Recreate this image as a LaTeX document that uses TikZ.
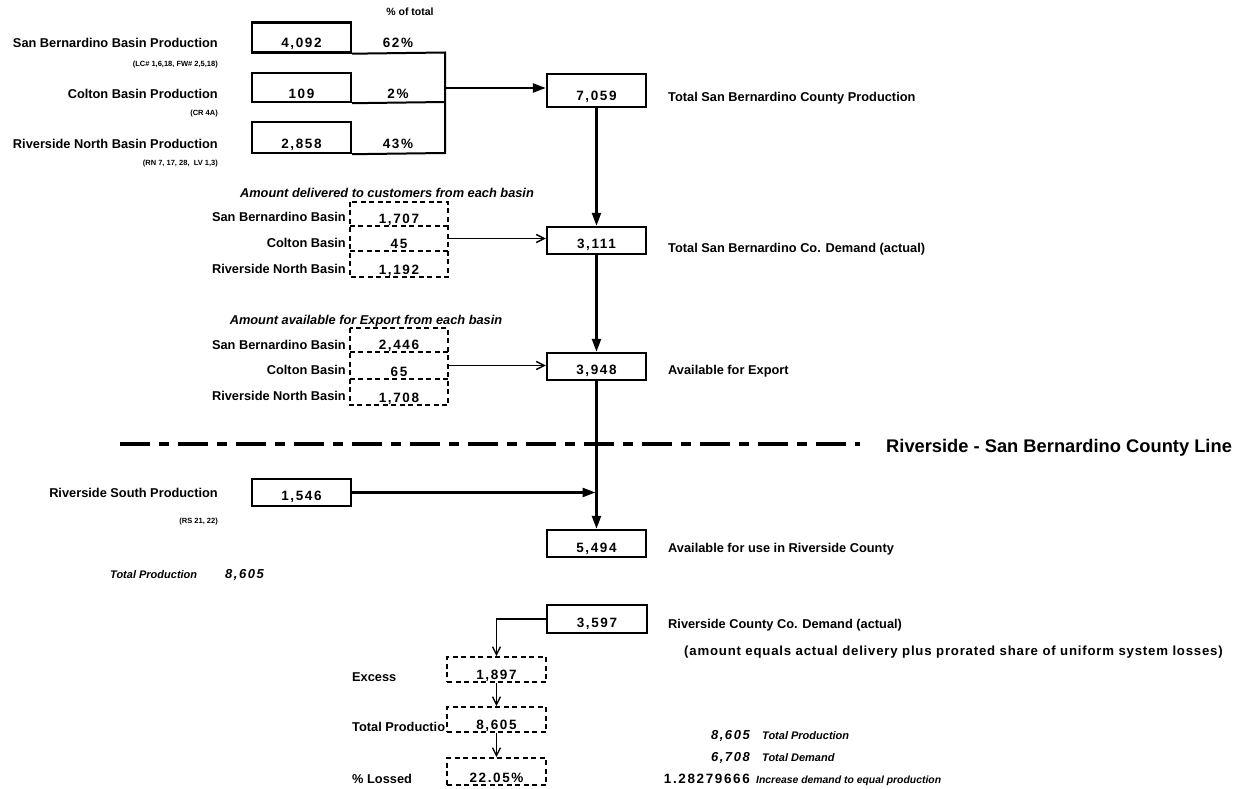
\documentclass[tikz,border=0pt]{standalone}
\usepackage{fontspec}
\setmainfont{Liberation Sans}
\newfontfamily\numfont{Liberation Sans}[LetterSpace=12]
\newfontfamily\widefont{Liberation Sans}[LetterSpace=6]
\usetikzlibrary{arrows.meta}
\newcommand{\lo}[2]{\raisebox{-#1pt}[0pt][0pt]{#2}}
\begin{document}
\begin{tikzpicture}[x=1pt,y=-1pt,
  lab/.style={font=\bfseries\fontsize{12.8}{14}\selectfont, inner sep=0pt},
  ilab/.style={font=\bfseries\itshape\fontsize{12.8}{14}\selectfont, inner sep=0pt},
  silab/.style={font=\bfseries\itshape\fontsize{11}{13}\selectfont, inner sep=0pt},
  sublab/.style={font=\bfseries\fontsize{7.5}{9}\selectfont, inner sep=0pt},
  num/.style={font=\numfont\bfseries\fontsize{13.5}{14}\selectfont, inner sep=0pt},
  inum/.style={font=\numfont\bfseries\itshape\fontsize{13}{14}\selectfont, inner sep=0pt},
  sbox/.style={draw, line width=2.4pt, minimum width=99pt, inner sep=0pt, num},
  cell/.style={minimum width=98pt, inner sep=0pt, num},
  dashline/.style={line width=1.6pt, dash pattern=on 5pt off 3.5pt},
  dbox/.style={draw, dashline, minimum width=99pt, inner sep=0pt, num},
  thickarrow/.style={line width=2.4pt, -{Triangle[length=13pt,width=9pt]}},
  thinarrow/.style={line width=1.4pt, -{Straight Barb[length=8pt,width=8pt]}},
  junction/.style={line width=2pt},
  countyline/.style={line width=3.5pt, dash pattern=on 30pt off 9pt on 10pt off 9pt},
]
\useasboundingbox (0,0) rectangle (1240,789);

% top production boxes
\node[lab, font=\bfseries\fontsize{10.5}{12}\selectfont, anchor=base] (pct) at (410,16) {\% of total};
\node[sbox, minimum height=30pt] (b4092) at (301.5,37.5) {\lo{10.5}{4,092}};
\node[num, anchor=base] (p62) at (398,48) {62\%};
\node[sbox, minimum height=29pt] (b109) at (301.5,87.5) {\lo{11.5}{109}};
\node[num, anchor=base] (p2) at (398,99) {2\%};
\node[sbox, minimum height=31pt] (b2858) at (301.5,137.5) {\lo{11.5}{2,858}};
\node[num, anchor=base] (p43) at (398,149) {43\%};

\node[lab, anchor=base east] (l1) at (218,48) {San Bernardino Basin Production};
\node[sublab, anchor=base east] (s1) at (218,67) {(LC\# 1,6,18, FW\# 2,5,18)};
\node[lab, anchor=base east] (l2) at (218,99) {Colton Basin Production};
\node[sublab, anchor=base east] (s2) at (218,116) {(CR 4A)};
\node[lab, anchor=base east] (l3) at (218,149) {Riverside North Basin Production};
\node[sublab, anchor=base east] (s3) at (218,166) {(RN 7, 17, 28,\ \ LV 1,3)};

\coordinate (j1) at (445,52.5);
\coordinate (j2) at (445,102);
\coordinate (j3) at (445,153);
\coordinate (jm) at (445,88);
\draw[junction] (b4092.south east) -- (j1) -- (j3) -- (b2858.south east);
\draw[junction] (b109.south east) -- (j2);

\node[sbox, minimum height=33pt] (b7059) at (596.5,90.5) {\lo{10.5}{7,059}};
\draw[thickarrow] (jm) -- (jm -| b7059.west);
\node[lab, anchor=base west] (t1) at (668,102) {Total San Bernardino County Production};

% delivered group
\node[ilab, anchor=base] (h1) at (387,197) {Amount delivered to customers from each basin};
\node[cell, minimum height=24pt] (d11) at (399,214) {\lo{9.5}{1,707}};
\node[cell, minimum height=25pt] (d12) at (399,238.5) {\lo{10}{45}};
\node[cell, minimum height=26pt] (d13) at (399,264) {\lo{10.5}{1,192}};
\draw[dashline] (d11.north west) rectangle (d13.south east);
\draw[dashline] (d11.south west) -- (d11.south east);
\draw[dashline] (d12.south west) -- (d12.south east);
\node[lab, anchor=base east] at (346,222) {San Bernardino Basin};
\node[lab, anchor=base east] at (346,247) {Colton Basin};
\node[lab, anchor=base east] at (346,273) {Riverside North Basin};

\node[sbox, minimum height=27pt] (b3111) at (596.5,240.5) {\lo{7.5}{3,111}};
\draw[thinarrow] (d12.east) -- (d12.east -| b3111.west);
\draw[thickarrow] (b7059.south) -- (b3111.north);
\node[lab, anchor=base west] (t2) at (668,252) {Total San Bernardino Co. Demand (actual)};

% export group
\node[ilab, anchor=base] (h2) at (366,324) {Amount available for Export from each basin};
\node[cell, minimum height=24pt] (d21) at (399,340) {\lo{9.5}{2,446}};
\node[cell, minimum height=27pt] (d22) at (399,365.5) {\lo{11}{65}};
\node[cell, minimum height=26pt] (d23) at (399,392) {\lo{10.5}{1,708}};
\draw[dashline] (d21.north west) rectangle (d23.south east);
\draw[dashline] (d21.south west) -- (d21.south east);
\draw[dashline] (d22.south west) -- (d22.south east);
\node[lab, anchor=base east] at (346,349) {San Bernardino Basin};
\node[lab, anchor=base east] at (346,374) {Colton Basin};
\node[lab, anchor=base east] at (346,400) {Riverside North Basin};

\node[sbox, minimum height=27pt] (b3948) at (596.5,366.5) {\lo{7.5}{3,948}};
\draw[thinarrow] (d22.east) -- (d22.east -| b3948.west);
\draw[thickarrow] (b3111.south) -- (b3948.north);
\node[lab, anchor=base west] (t3) at (668,374) {Available for Export};

% county line
\coordinate (cl1) at (120,444);
\coordinate (cl2) at (860,444);
\draw[countyline] (cl1) -- (cl2);
\node[font=\bfseries\fontsize{18.3}{20}\selectfont, inner sep=0pt, anchor=base west] (cln) at (886,452) {Riverside - San Bernardino County Line};

% riverside south
\node[lab, anchor=base east] (l4) at (218,497) {Riverside South Production};
\node[sublab, anchor=base east] (s4) at (218,523) {(RS 21, 22)};
\node[sbox, minimum height=27pt] (b1546) at (301.5,492.5) {\lo{7.5}{1,546}};
\node[sbox, minimum height=27pt] (b5494) at (596.5,543.5) {\lo{8.5}{5,494}};
\draw[thickarrow] (b3948.south) -- (b5494.north);
\draw[thickarrow, shorten >=1pt] (b1546.east) -- (b1546.east -| b5494.north);
\node[lab, anchor=base west] (t4) at (668,552) {Available for use in Riverside County};

\node[silab, anchor=base west] (tp1) at (110,578) {Total Production};
\node[inum, anchor=base west] (tp2) at (225,578) {8,605};

% riverside demand
\node[sbox, minimum height=28pt, minimum width=100pt] (b3597) at (597,619) {\lo{8}{3,597}};
\node[lab, anchor=base west] (t5) at (668,628) {Riverside County Co. Demand (actual)};
\node[lab, font=\widefont\bfseries\fontsize{13.2}{14}\selectfont, anchor=base west] (t6) at (684,655) {(amount equals actual delivery plus prorated share of uniform system losses)};

\node[dbox, minimum height=25pt] (ex) at (496.5,669.5) {\lo{10}{1,897}};
\node[dbox, minimum height=25pt] (tp) at (496.5,719.5) {\lo{10}{8,605}};
\node[dbox, minimum height=27pt] (pl) at (496.5,771.5) {\lo{11}{22.05\%}};
\node[lab, anchor=base west] at (352,681) {Excess};
\node[lab, anchor=base west] at (352,731) {Total Productio};
\node[lab, anchor=base west] at (352,783) {\% Lossed};
\draw[thinarrow] (b3597.west) -| (ex.north);
\draw[thinarrow] (ex.south) -- (tp.north);
\draw[thinarrow] (tp.south) -- (pl.north);

% summary
\node[inum, anchor=base east] (n1) at (750,739) {8,605};
\node[silab, anchor=base west] at (762,739) {Total Production};
\node[inum, anchor=base east] (n2) at (750,761) {6,708};
\node[silab, anchor=base west] at (762,761) {Total Demand};
\node[num, anchor=base east] (n3) at (750,783) {1.28279666};
\node[silab, font=\bfseries\itshape\fontsize{10.4}{12}\selectfont, anchor=base west] at (756,783) {Increase demand to equal production};
\end{tikzpicture}
\end{document}
